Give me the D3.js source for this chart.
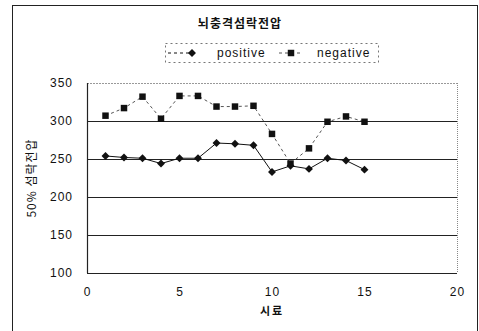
<!DOCTYPE html>
<html>
<head>
<meta charset="utf-8">
<script src="https://cdn.jsdelivr.net/npm/d3@7"></script>
<style>
  body { margin: 0; background: #fff; }
  svg text { font-family: "Liberation Sans", Arial, sans-serif; fill: #111; }
  svg .kr { font-family: "Noto Sans CJK KR", sans-serif; }
</style>
</head>
<body>
<svg id="chart" width="479" height="331"></svg>
<script>
// samples 1..15
const samples = [1, 2, 3, 4, 5, 6, 7, 8, 9, 10, 11, 12, 13, 14, 15];
const positive = [254, 252, 251, 244, 251, 251, 271, 270, 268, 233, 241, 237, 251, 248, 236];
const negative = [307, 317, 332, 303, 333, 333, 319, 319, 320, 283, 244, 264, 299, 306, 299];
const xTicks = [0, 5, 10, 15, 20];
const yTicks = [100, 150, 200, 250, 300, 350];

const svg = d3.select('#chart');
const m = { left: 87, right: 457, top: 83, bottom: 273 };

const x = d3.scaleLinear().domain([0, 20]).range([m.left, m.right]);
const y = d3.scaleLinear().domain([100, 350]).range([m.bottom, m.top]);

// outer frame
svg.append('rect').attr('x', 12.5).attr('y', 5.5).attr('width', 465).attr('height', 340)
  .attr('fill', 'none').attr('stroke', '#222').attr('stroke-width', 1);

// gridlines
yTicks.forEach(v => {
  const top = v === 350;
  svg.append('line').attr('x1', m.left).attr('x2', m.right)
    .attr('y1', y(v) + 0.5).attr('y2', y(v) + 0.5)
    .attr('stroke', top ? '#999' : '#222')
    .attr('stroke-width', top ? 1 : 1.2)
    .attr('stroke-dasharray', top ? '2,1' : null);
});
// right border (dotted) and left axis
svg.append('line').attr('x1', m.right + 0.5).attr('x2', m.right + 0.5).attr('y1', m.top).attr('y2', m.bottom)
  .attr('stroke', '#888').attr('stroke-dasharray', '1,1');
svg.append('line').attr('x1', m.left + 0.5).attr('x2', m.left + 0.5).attr('y1', m.top).attr('y2', m.bottom)
  .attr('stroke', '#222').attr('stroke-width', 1.2);

// axes labels via d3 axes, hiding the domain and ticks
const yAxis = svg.append('g').attr('transform', `translate(${m.left},0)`)
  .call(d3.axisLeft(y).tickValues(yTicks).tickSize(0).tickPadding(14));
yAxis.select('.domain').remove();
yAxis.selectAll('text').style('font-size', '12px').style('font-family', '"Liberation Sans", Arial, sans-serif')
  .attr('letter-spacing', '1');

const xAxis = svg.append('g').attr('transform', `translate(0,${m.bottom})`)
  .call(d3.axisBottom(x).tickValues(xTicks).tickSize(0).tickPadding(14));
xAxis.select('.domain').remove();
xAxis.selectAll('text').style('font-size', '12px').style('font-family', '"Liberation Sans", Arial, sans-serif')
  .attr('letter-spacing', '1');

// titles
svg.append('text').attr('class', 'kr').attr('x', 240).attr('y', 28)
  .attr('text-anchor', 'middle').style('font-size', '12px').style('font-weight', 'bold')
  .attr('letter-spacing', '1').text('뇌충격섬락전압');
svg.append('text').attr('class', 'kr').attr('x', 272).attr('y', 315)
  .attr('text-anchor', 'middle').style('font-size', '11px').style('font-weight', 'bold')
  .attr('letter-spacing', '2').text('시료');
svg.append('text').attr('class', 'kr')
  .attr('transform', `translate(36,${(m.top + m.bottom) / 2}) rotate(-90)`)
  .attr('text-anchor', 'middle').style('font-size', '12px').attr('letter-spacing', '1')
  .text('50% 섬락전압');

// series
const line = d3.line().x((d, i) => x(samples[i])).y(d => y(d));
svg.append('path').datum(negative).attr('d', line).attr('fill', 'none')
  .attr('stroke', '#555').attr('stroke-width', 1).attr('stroke-dasharray', '3,3');
svg.append('path').datum(positive).attr('d', line).attr('fill', 'none')
  .attr('stroke', '#111').attr('stroke-width', 1);

const diamond = d3.symbol().type(d3.symbolDiamond2).size(40);
const square = d3.symbol().type(d3.symbolSquare).size(42);
svg.append('g').selectAll('path').data(negative).join('path')
  .attr('transform', (d, i) => `translate(${x(samples[i])},${y(d)})`)
  .attr('d', square).attr('fill', '#111');
svg.append('g').selectAll('path').data(positive).join('path')
  .attr('transform', (d, i) => `translate(${x(samples[i])},${y(d)})`)
  .attr('d', diamond).attr('fill', '#111');

// legend
const lg = svg.append('g');
lg.append('rect').attr('x', 165.5).attr('y', 43.5).attr('width', 213).attr('height', 19)
  .attr('fill', 'none').attr('stroke', '#777').attr('stroke-dasharray', '2,3');
lg.append('line').attr('x1', 168).attr('x2', 192).attr('y1', 53).attr('y2', 53)
  .attr('stroke', '#111').attr('stroke-dasharray', '3,3');
lg.append('path').attr('transform', 'translate(192,53)').attr('d', diamond).attr('fill', '#111');
lg.append('text').attr('x', 217).attr('y', 57).style('font-size', '12px').attr('letter-spacing', '1').text('positive');
lg.append('line').attr('x1', 279).attr('x2', 303).attr('y1', 53).attr('y2', 53)
  .attr('stroke', '#555').attr('stroke-dasharray', '3,3');
lg.append('path').attr('transform', 'translate(291,53)').attr('d', square).attr('fill', '#111');
lg.append('text').attr('x', 317).attr('y', 57).style('font-size', '12px').attr('letter-spacing', '1').text('negative');
</script>
</body>
</html>
